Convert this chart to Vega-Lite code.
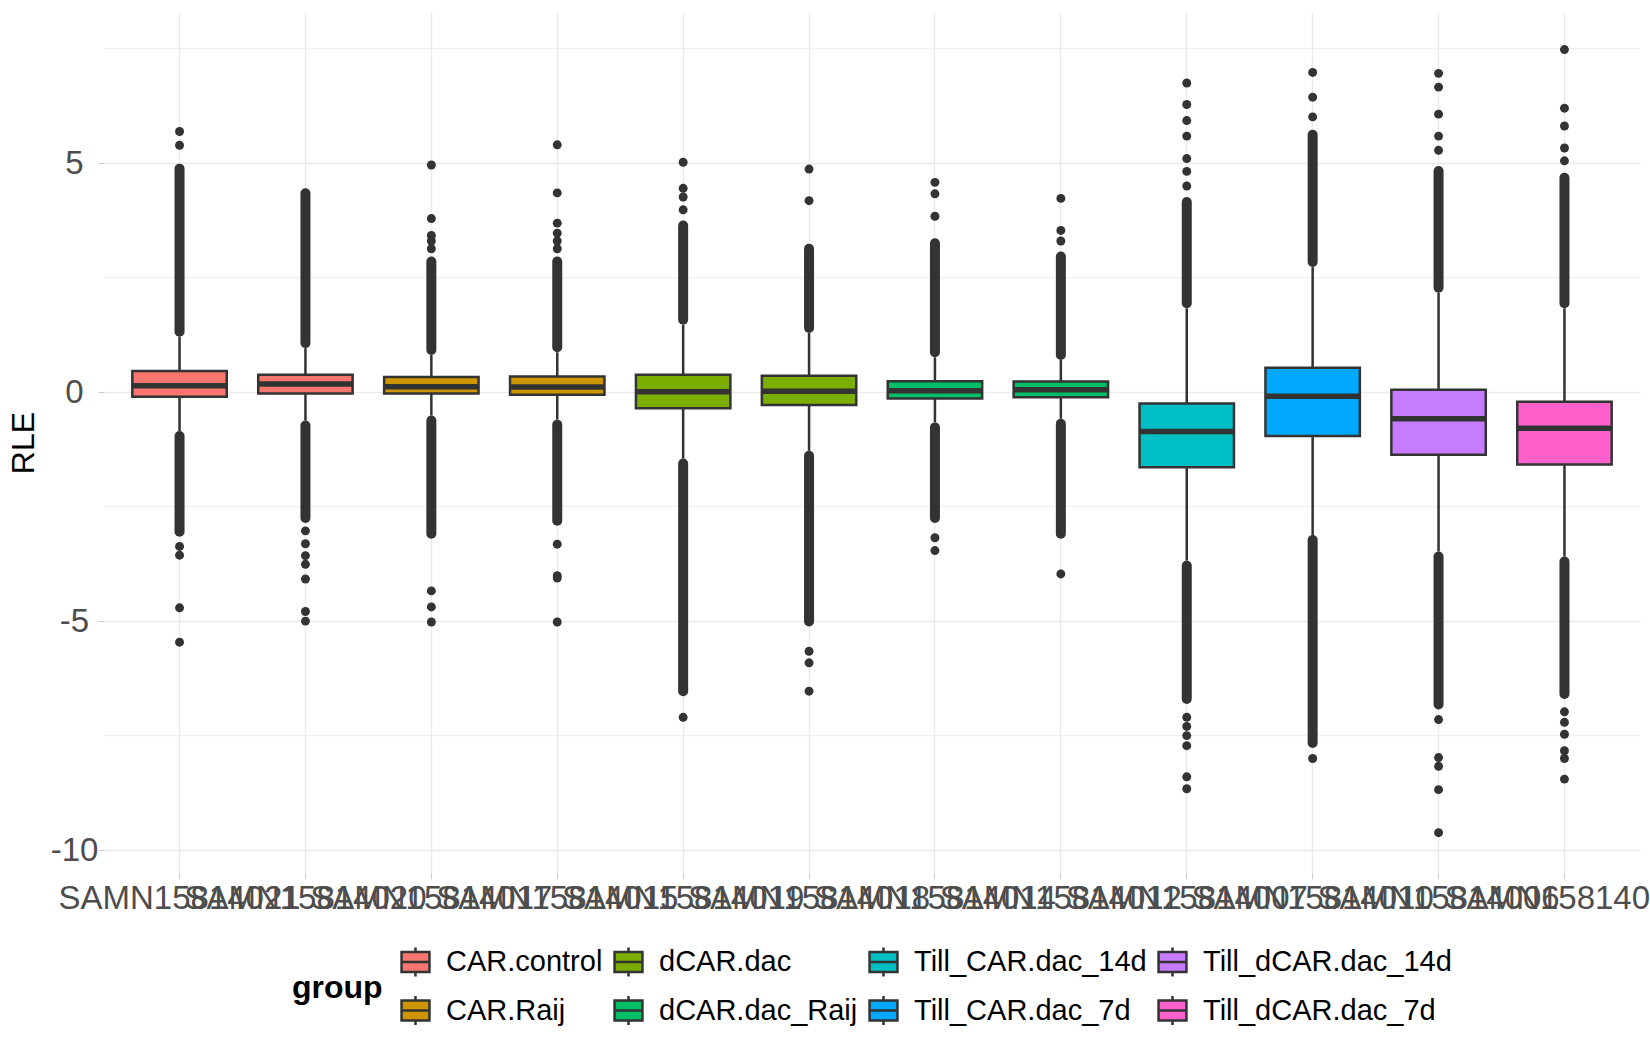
{
  "$schema": "https://vega.github.io/schema/vega-lite/v6.json",
  "width": 1536,
  "height": 861,
  "autosize": {"type": "none"},
  "padding": {"left": 104, "top": 12, "right": 10, "bottom": 177},
  "config": {
    "font": "Liberation Sans",
    "view": {"stroke": null},
    "axis": {"domain": false}
  },
  "datasets": {
    "stats": [
      {"s": "SAMN15814021", "g": "CAR.control", "lw": -0.85, "q1": -0.1, "med": 0.14, "q3": 0.46, "uw": 1.21},
      {"s": "SAMN15814020", "g": "CAR.control", "lw": -0.62, "q1": -0.03, "med": 0.18, "q3": 0.38, "uw": 0.96},
      {"s": "SAMN15814017", "g": "CAR.Raij", "lw": -0.51, "q1": -0.03, "med": 0.12, "q3": 0.33, "uw": 0.81},
      {"s": "SAMN15814015", "g": "CAR.Raij", "lw": -0.6, "q1": -0.06, "med": 0.11, "q3": 0.34, "uw": 0.87},
      {"s": "SAMN15814019", "g": "dCAR.dac", "lw": -1.45, "q1": -0.35, "med": 0.01, "q3": 0.38, "uw": 1.47},
      {"s": "SAMN15814018", "g": "dCAR.dac", "lw": -1.28, "q1": -0.28, "med": 0.02, "q3": 0.36, "uw": 1.29},
      {"s": "SAMN15814014", "g": "dCAR.dac_Raij", "lw": -0.66, "q1": -0.14, "med": 0.03, "q3": 0.24, "uw": 0.76},
      {"s": "SAMN15814012", "g": "dCAR.dac_Raij", "lw": -0.58, "q1": -0.11, "med": 0.05, "q3": 0.23, "uw": 0.7},
      {"s": "SAMN15814007", "g": "Till_CAR.dac_14d", "lw": -3.68, "q1": -1.64, "med": -0.86, "q3": -0.25, "uw": 1.83},
      {"s": "SAMN15814010", "g": "Till_CAR.dac_7d", "lw": -3.12, "q1": -0.96, "med": -0.09, "q3": 0.53, "uw": 2.73},
      {"s": "SAMN15814006", "g": "Till_dCAR.dac_14d", "lw": -3.48, "q1": -1.37, "med": -0.58, "q3": 0.05, "uw": 2.17},
      {"s": "SAMN15814011", "g": "Till_dCAR.dac_7d", "lw": -3.59, "q1": -1.58, "med": -0.79, "q3": -0.21, "uw": 1.83}
    ],
    "streaks": [
      {"s": "SAMN15814021", "lo": 1.32, "hi": 4.88},
      {"s": "SAMN15814021", "lo": -3.05, "hi": -0.96},
      {"s": "SAMN15814020", "lo": 1.07, "hi": 4.34},
      {"s": "SAMN15814020", "lo": -2.75, "hi": -0.73},
      {"s": "SAMN15814017", "lo": 0.92, "hi": 2.85},
      {"s": "SAMN15814017", "lo": -3.09, "hi": -0.62},
      {"s": "SAMN15814015", "lo": 0.98, "hi": 2.85},
      {"s": "SAMN15814015", "lo": -2.81, "hi": -0.71},
      {"s": "SAMN15814019", "lo": 1.58, "hi": 3.64},
      {"s": "SAMN15814019", "lo": -6.53, "hi": -1.56},
      {"s": "SAMN15814018", "lo": 1.4, "hi": 3.13},
      {"s": "SAMN15814018", "lo": -5.01, "hi": -1.39},
      {"s": "SAMN15814014", "lo": 0.87, "hi": 3.25},
      {"s": "SAMN15814014", "lo": -2.75, "hi": -0.77},
      {"s": "SAMN15814012", "lo": 0.81, "hi": 2.96},
      {"s": "SAMN15814012", "lo": -3.09, "hi": -0.69},
      {"s": "SAMN15814007", "lo": 1.94, "hi": 4.15},
      {"s": "SAMN15814007", "lo": -6.7, "hi": -3.79},
      {"s": "SAMN15814010", "lo": 2.84, "hi": 5.62},
      {"s": "SAMN15814010", "lo": -7.66, "hi": -3.23},
      {"s": "SAMN15814006", "lo": 2.28, "hi": 4.83},
      {"s": "SAMN15814006", "lo": -6.82, "hi": -3.59},
      {"s": "SAMN15814011", "lo": 1.94, "hi": 4.68},
      {"s": "SAMN15814011", "lo": -6.59, "hi": -3.7}
    ],
    "pts": [
      {"s": "SAMN15814021", "v": 5.39}, {"s": "SAMN15814021", "v": 5.69},
      {"s": "SAMN15814021", "v": -3.37}, {"s": "SAMN15814021", "v": -3.56},
      {"s": "SAMN15814021", "v": -4.71}, {"s": "SAMN15814021", "v": -5.46},
      {"s": "SAMN15814020", "v": -3.03}, {"s": "SAMN15814020", "v": -3.31},
      {"s": "SAMN15814020", "v": -3.57}, {"s": "SAMN15814020", "v": -3.76},
      {"s": "SAMN15814020", "v": -4.08}, {"s": "SAMN15814020", "v": -4.79},
      {"s": "SAMN15814020", "v": -5.0},
      {"s": "SAMN15814017", "v": 3.13}, {"s": "SAMN15814017", "v": 3.3},
      {"s": "SAMN15814017", "v": 3.42}, {"s": "SAMN15814017", "v": 3.79},
      {"s": "SAMN15814017", "v": 4.96}, {"s": "SAMN15814017", "v": -4.34},
      {"s": "SAMN15814017", "v": -4.69}, {"s": "SAMN15814017", "v": -5.02},
      {"s": "SAMN15814015", "v": 3.13}, {"s": "SAMN15814015", "v": 3.3},
      {"s": "SAMN15814015", "v": 3.47}, {"s": "SAMN15814015", "v": 3.69},
      {"s": "SAMN15814015", "v": 4.35}, {"s": "SAMN15814015", "v": 5.4},
      {"s": "SAMN15814015", "v": -3.32}, {"s": "SAMN15814015", "v": -4.01},
      {"s": "SAMN15814015", "v": -4.06}, {"s": "SAMN15814015", "v": -5.02},
      {"s": "SAMN15814019", "v": 3.98}, {"s": "SAMN15814019", "v": 4.26},
      {"s": "SAMN15814019", "v": 4.45}, {"s": "SAMN15814019", "v": 5.02},
      {"s": "SAMN15814019", "v": -7.1},
      {"s": "SAMN15814018", "v": 4.18}, {"s": "SAMN15814018", "v": 4.87},
      {"s": "SAMN15814018", "v": -5.66}, {"s": "SAMN15814018", "v": -5.91},
      {"s": "SAMN15814018", "v": -6.53},
      {"s": "SAMN15814014", "v": 3.84}, {"s": "SAMN15814014", "v": 4.33},
      {"s": "SAMN15814014", "v": 4.58}, {"s": "SAMN15814014", "v": -3.18},
      {"s": "SAMN15814014", "v": -3.46},
      {"s": "SAMN15814012", "v": 3.3}, {"s": "SAMN15814012", "v": 3.53},
      {"s": "SAMN15814012", "v": 4.23}, {"s": "SAMN15814012", "v": -3.97},
      {"s": "SAMN15814007", "v": 4.5}, {"s": "SAMN15814007", "v": 4.82},
      {"s": "SAMN15814007", "v": 5.1}, {"s": "SAMN15814007", "v": 5.59},
      {"s": "SAMN15814007", "v": 5.93}, {"s": "SAMN15814007", "v": 6.28},
      {"s": "SAMN15814007", "v": 6.75}, {"s": "SAMN15814007", "v": -7.1},
      {"s": "SAMN15814007", "v": -7.3}, {"s": "SAMN15814007", "v": -7.5},
      {"s": "SAMN15814007", "v": -7.72}, {"s": "SAMN15814007", "v": -8.4},
      {"s": "SAMN15814007", "v": -8.66},
      {"s": "SAMN15814010", "v": 6.01}, {"s": "SAMN15814010", "v": 6.44},
      {"s": "SAMN15814010", "v": 6.98}, {"s": "SAMN15814010", "v": -8.0},
      {"s": "SAMN15814006", "v": 5.28}, {"s": "SAMN15814006", "v": 5.59},
      {"s": "SAMN15814006", "v": 6.07}, {"s": "SAMN15814006", "v": 6.66},
      {"s": "SAMN15814006", "v": 6.96}, {"s": "SAMN15814006", "v": -7.15},
      {"s": "SAMN15814006", "v": -7.98}, {"s": "SAMN15814006", "v": -8.17},
      {"s": "SAMN15814006", "v": -8.68}, {"s": "SAMN15814006", "v": -9.62},
      {"s": "SAMN15814011", "v": 5.05}, {"s": "SAMN15814011", "v": 5.33},
      {"s": "SAMN15814011", "v": 5.81}, {"s": "SAMN15814011", "v": 6.2},
      {"s": "SAMN15814011", "v": 7.48}, {"s": "SAMN15814011", "v": -6.98},
      {"s": "SAMN15814011", "v": -7.21}, {"s": "SAMN15814011", "v": -7.47},
      {"s": "SAMN15814011", "v": -7.83}, {"s": "SAMN15814011", "v": -8.0},
      {"s": "SAMN15814011", "v": -8.45}
    ],
    "minor": [{"v": -7.5}, {"v": -2.5}, {"v": 2.5}, {"v": 7.5}]
  },
  "layer": [
    {
      "data": {"name": "minor"},
      "mark": {"type": "rule", "color": "#EBEBEB", "strokeWidth": 0.9},
      "encoding": {
        "y": {"field": "v", "type": "quantitative"}
      }
    },
    {
      "data": {"name": "stats"},
      "mark": {"type": "rule", "color": "#333333", "strokeWidth": 2.5},
      "encoding": {
        "x": {
          "field": "s", "type": "nominal", "title": null,
          "scale": {
            "domain": ["SAMN15814021", "SAMN15814020", "SAMN15814017", "SAMN15814015", "SAMN15814019", "SAMN15814018", "SAMN15814014", "SAMN15814012", "SAMN15814007", "SAMN15814010", "SAMN15814006", "SAMN15814011"],
            "paddingInner": 0.25, "paddingOuter": 0.225
          },
          "axis": {
            "labelAngle": 0, "labelOverlap": false, "labelBound": false, "labelLimit": 400,
            "labelFontSize": 33, "labelColor": "#4D4D4D", "labelPadding": 3,
            "ticks": true, "tickSize": 6, "tickColor": "#CCCCCC",
            "grid": true, "gridColor": "#EBEBEB", "gridWidth": 1.5
          }
        },
        "y": {
          "field": "lw", "type": "quantitative", "title": "RLE",
          "scale": {"domain": [-10.5, 8.3], "nice": false, "zero": false},
          "axis": {
            "values": [-10, -5, 0, 5], "labelExpr": "'' + datum.value",
            "labelFontSize": 33, "labelColor": "#4D4D4D", "labelAlign": "center", "labelPadding": 24,
            "tickSize": 6, "tickColor": "#CCCCCC",
            "grid": true, "gridColor": "#EBEBEB", "gridWidth": 1.5,
            "titleFontSize": 32, "titleFontWeight": "normal", "titleColor": "black", "titlePadding": 10
          }
        },
        "y2": {"field": "uw"}
      }
    },
    {
      "data": {"name": "streaks"},
      "mark": {"type": "rule", "color": "#333333", "strokeWidth": 10, "strokeCap": "round"},
      "encoding": {
        "x": {"field": "s", "type": "nominal"},
        "y": {"field": "lo", "type": "quantitative"},
        "y2": {"field": "hi"}
      }
    },
    {
      "data": {"name": "pts"},
      "mark": {"type": "point", "filled": true, "color": "#333333", "size": 80, "opacity": 1},
      "encoding": {
        "x": {"field": "s", "type": "nominal"},
        "y": {"field": "v", "type": "quantitative"}
      }
    },
    {
      "data": {"name": "stats"},
      "mark": {"type": "bar", "stroke": "#333333", "strokeWidth": 2.5},
      "encoding": {
        "x": {"field": "s", "type": "nominal"},
        "y": {"field": "q1", "type": "quantitative"},
        "y2": {"field": "q3"},
        "fill": {
          "field": "g", "type": "nominal",
          "scale": {
            "domain": ["CAR.control", "dCAR.dac", "Till_CAR.dac_14d", "Till_dCAR.dac_14d", "CAR.Raij", "dCAR.dac_Raij", "Till_CAR.dac_7d", "Till_dCAR.dac_7d"],
            "range": ["#F8766D", "#7CAE00", "#00BFC4", "#C77CFF", "#CD9600", "#00BE67", "#00A9FF", "#FF61CC"]
          },
          "legend": {
            "title": "group", "orient": "none", "legendX": 188, "legendY": 933,
            "direction": "horizontal", "columns": 4,
            "titleOrient": "left", "titleAnchor": "middle", "titleBaseline": "middle",
            "titleFontSize": 32, "titleFontWeight": "bold", "titleColor": "black", "titlePadding": 16,
            "labelFontSize": 29, "labelColor": "black", "labelOffset": 14, "labelLimit": 400,
            "symbolType": "M-0.93,-0.67H0.93V0.67H-0.93Z M-0.93,0H0.93 M0,-0.67V-0.97 M0,0.67V0.97",
            "symbolSize": 900, "symbolStrokeColor": "#333333", "symbolStrokeWidth": 2.5,
            "columnPadding": 6, "rowPadding": 8
          }
        }
      }
    },
    {
      "data": {"name": "stats"},
      "mark": {"type": "tick", "orient": "horizontal", "size": 94, "thickness": 5.5, "color": "#333333", "opacity": 1},
      "encoding": {
        "x": {"field": "s", "type": "nominal"},
        "y": {"field": "med", "type": "quantitative"}
      }
    },
    {
      "mark": {"type": "rule", "color": "#FF0000", "strokeWidth": 2.5, "strokeDash": [11, 8]},
      "encoding": {
        "y": {"datum": 0}
      }
    }
  ]
}
